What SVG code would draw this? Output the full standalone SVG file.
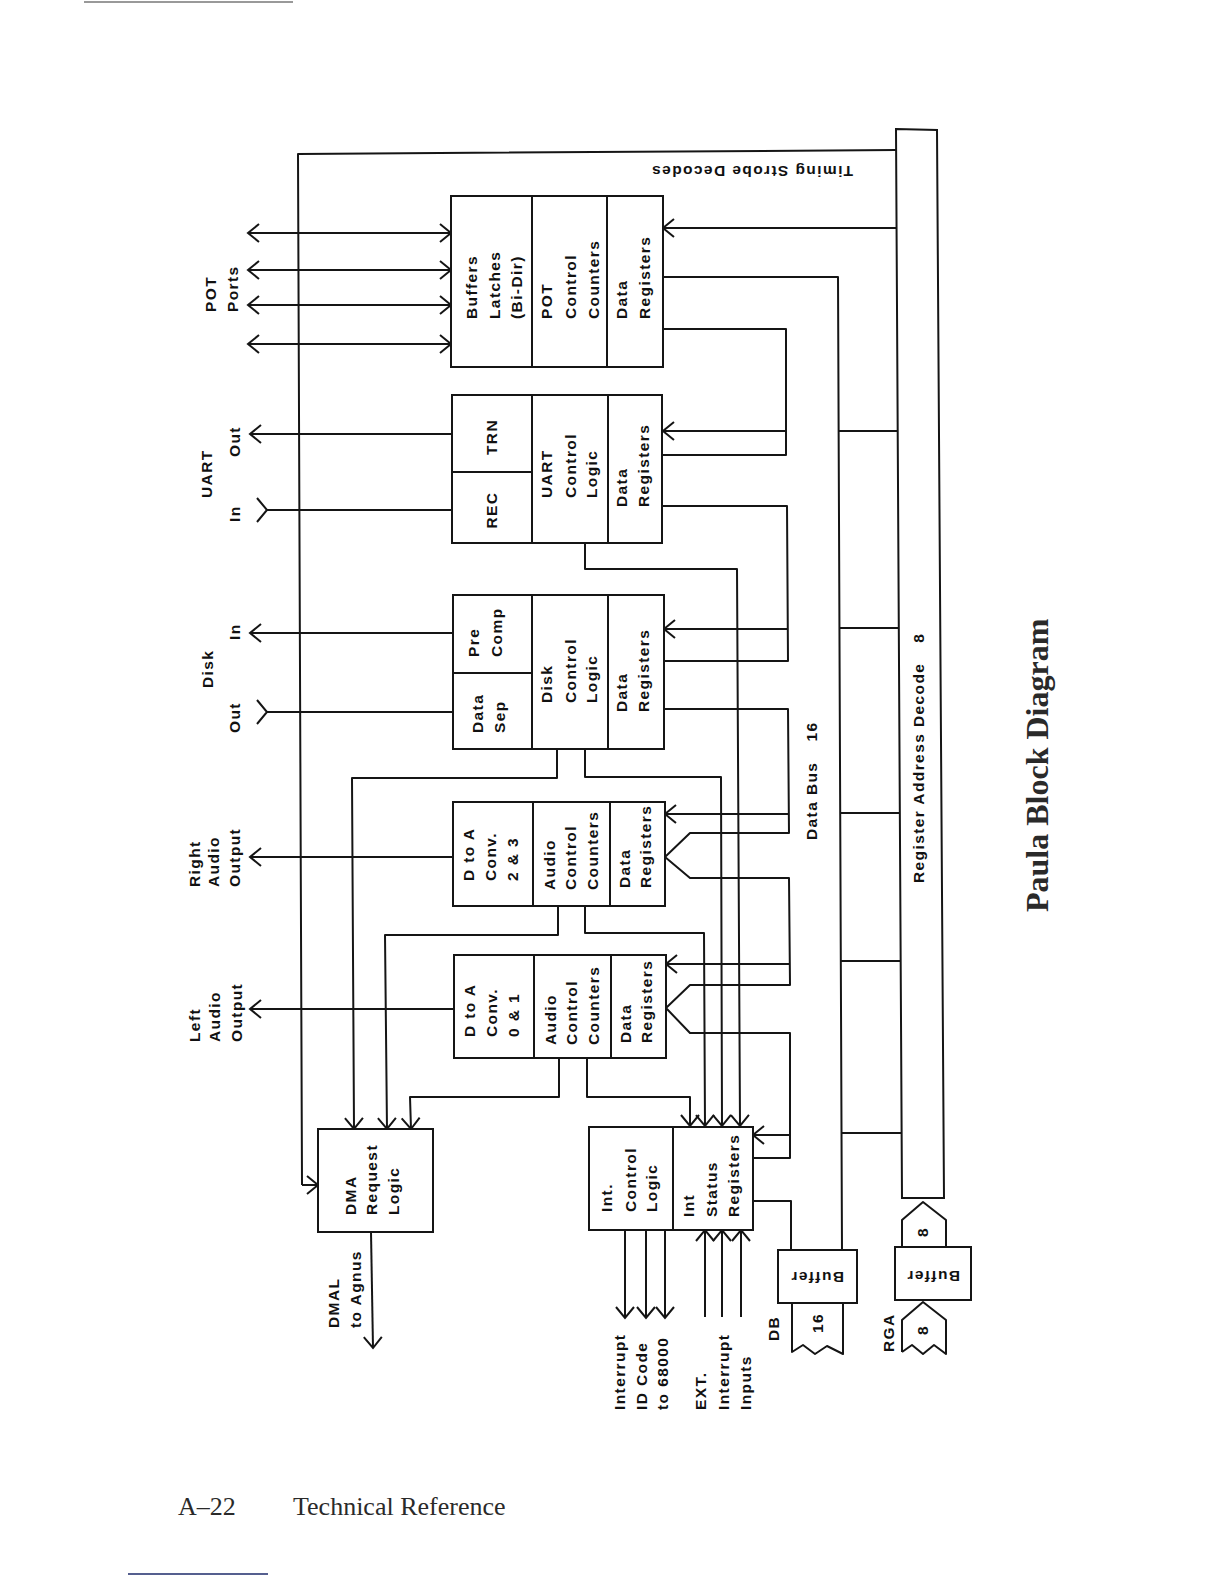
<svg xmlns="http://www.w3.org/2000/svg" width="1224" height="1584" viewBox="0 0 1224 1584">
<defs>
<style>
.t{font-family:"Liberation Sans",Arial,sans-serif;font-weight:bold;font-size:15.5px;letter-spacing:1.4px;fill:#111}
.m{text-anchor:middle}
.b{fill:#fff;stroke:#151515;stroke-width:2}
.l{fill:none;stroke:#151515;stroke-width:2;stroke-linejoin:round}
.a{marker-end:url(#ah)}
.bi{marker-start:url(#ah);marker-end:url(#ah)}
.tl{marker-start:url(#tail)}
.serif{font-family:"Liberation Serif","Times New Roman",serif;fill:#2a2a2a}
</style>
<marker id="ah" markerUnits="userSpaceOnUse" markerWidth="30" markerHeight="30" viewBox="-15 -15 30 30" refX="0" refY="0" orient="auto-start-reverse" overflow="visible">
<path d="M-11,-9 L0,0 L-11,9" fill="none" stroke="#151515" stroke-width="2"/>
</marker>
<marker id="tail" markerUnits="userSpaceOnUse" markerWidth="30" markerHeight="30" viewBox="-15 -15 30 30" refX="0" refY="0" orient="auto" overflow="visible">
<path d="M-10,-12 L0,0 L-10,12" fill="none" stroke="#151515" stroke-width="2"/>
</marker>
</defs>
<rect width="1224" height="1584" fill="#fff"/>
<line x1="84" y1="2" x2="293" y2="2" stroke="#999" stroke-width="2"/>

<g id="connectors">
<path class="l" d="M896,150 L298,154 L302,1185"/>
<path class="l a" d="M302,1185 H318"/>
<path class="l bi" d="M248,233 H451"/>
<path class="l bi" d="M248,270 H451"/>
<path class="l bi" d="M248,305 H451"/>
<path class="l bi" d="M248,344 H451"/>
<path class="l a" d="M452,434 H250"/>
<path class="l tl" d="M267,510 H452"/>
<path class="l a" d="M453,633 H250"/>
<path class="l tl" d="M267,712 H453"/>
<path class="l a" d="M453,857 H250"/>
<path class="l a" d="M454,1009 H250"/>
<path class="l a" d="M896,228 H663"/>
<path class="l a" d="M786,431 H663"/>
<path class="l a" d="M788,629 H664"/>
<path class="l a" d="M789,814 H665"/>
<path class="l a" d="M790,964 H666"/>
<path class="l a" d="M790,1135 H753"/>
<path class="l" d="M663,277 H838 L842,1250"/>
<path class="l" d="M838,431 H898"/>
<path class="l" d="M839,628 H899"/>
<path class="l" d="M840,813 H900"/>
<path class="l" d="M841,961 H901"/>
<path class="l" d="M842,1133 H902"/>
<path class="l" d="M663,329 H786 V455 H663"/>
<path class="l" d="M663,506 H787 L788,661 H664"/>
<path class="l" d="M664,709 H788 L789,833 H690 L665,857 L690,878 H789 L790,985 H690 L666,1008 L690,1033 H790 V1158 H753"/>
<path class="l" d="M753,1201 H791 V1250"/>
<path class="l a" d="M557,749 V778 H352 L354,1129"/>
<path class="l a" d="M558,906 V935 H385 L387,1129"/>
<path class="l a" d="M559,1058 V1097 H410 L411,1129"/>
<path class="l a" d="M371,1232 L373,1348"/>
<path class="l a" d="M585,543 V569 H737 L740,1126"/>
<path class="l a" d="M585,749 V777 H721 L722,1126"/>
<path class="l a" d="M585,906 V933 H704 L705,1126"/>
<path class="l a" d="M587,1058 V1097 H690 V1126"/>
<path class="l a" d="M625,1230 V1318"/>
<path class="l a" d="M646,1230 V1318"/>
<path class="l a" d="M665,1230 V1318"/>
<path class="l a" d="M705,1317 V1230"/>
<path class="l a" d="M722,1317 V1230"/>
<path class="l a" d="M741,1317 V1230"/>
</g>

<g id="register-bus">
<path class="b" d="M896,129 L937,130 L944,1198 L902,1198 Z"/>
<text class="t" transform="rotate(-90 924 883)" x="924" y="883">Register Address Decode<tspan dx="20">8</tspan></text>
</g>
<g id="data-bus-label">
<text class="t" transform="rotate(-90 817 840)" x="817" y="840">Data Bus<tspan dx="20">16</tspan></text>
</g>
<g id="timing-label">
<text class="t" transform="translate(853,166) rotate(180)">Timing Strobe Decodes</text>
</g>

<g id="pot">
<rect class="b" x="451" y="196" width="212" height="171"/>
<path class="l" d="M532,196 V367 M607,196 V367"/>
<text class="t" transform="rotate(-90 477 319)" x="477" y="319">Buffers</text>
<text class="t" transform="rotate(-90 500 319)" x="500" y="319">Latches</text>
<text class="t" transform="rotate(-90 522 319)" x="522" y="319">(Bi-Dir)</text>
<text class="t" transform="rotate(-90 552 319)" x="552" y="319">POT</text>
<text class="t" transform="rotate(-90 576 319)" x="576" y="319">Control</text>
<text class="t" transform="rotate(-90 599 319)" x="599" y="319">Counters</text>
<text class="t" transform="rotate(-90 627 319)" x="627" y="319">Data</text>
<text class="t" transform="rotate(-90 650 319)" x="650" y="319">Registers</text>
</g>

<g id="uart">
<rect class="b" x="452" y="395" width="210" height="148"/>
<path class="l" d="M532,395 V543 M608,395 V543 M452,472 H532"/>
<text class="t m" transform="rotate(-90 497 437)" x="497" y="437">TRN</text>
<text class="t m" transform="rotate(-90 497 510)" x="497" y="510">REC</text>
<text class="t" transform="rotate(-90 552 498)" x="552" y="498">UART</text>
<text class="t" transform="rotate(-90 576 498)" x="576" y="498">Control</text>
<text class="t" transform="rotate(-90 597 498)" x="597" y="498">Logic</text>
<text class="t" transform="rotate(-90 627 507)" x="627" y="507">Data</text>
<text class="t" transform="rotate(-90 649 507)" x="649" y="507">Registers</text>
</g>

<g id="disk">
<rect class="b" x="453" y="595" width="211" height="154"/>
<path class="l" d="M532,595 V749 M608,595 V749 M453,673 H532"/>
<text class="t" transform="rotate(-90 479 657)" x="479" y="657">Pre</text>
<text class="t" transform="rotate(-90 502 657)" x="502" y="657">Comp</text>
<text class="t" transform="rotate(-90 483 733)" x="483" y="733">Data</text>
<text class="t" transform="rotate(-90 505 733)" x="505" y="733">Sep</text>
<text class="t" transform="rotate(-90 552 703)" x="552" y="703">Disk</text>
<text class="t" transform="rotate(-90 576 703)" x="576" y="703">Control</text>
<text class="t" transform="rotate(-90 597 703)" x="597" y="703">Logic</text>
<text class="t" transform="rotate(-90 627 712)" x="627" y="712">Data</text>
<text class="t" transform="rotate(-90 649 712)" x="649" y="712">Registers</text>
</g>

<g id="audio23">
<rect class="b" x="453" y="802" width="212" height="104"/>
<path class="l" d="M533,802 V906 M610,802 V906"/>
<text class="t" transform="rotate(-90 474 881)" x="474" y="881">D to A</text>
<text class="t" transform="rotate(-90 496 881)" x="496" y="881">Conv.</text>
<text class="t" transform="rotate(-90 518 881)" x="518" y="881">2 &amp; 3</text>
<text class="t" transform="rotate(-90 555 890)" x="555" y="890">Audio</text>
<text class="t" transform="rotate(-90 576 890)" x="576" y="890">Control</text>
<text class="t" transform="rotate(-90 598 890)" x="598" y="890">Counters</text>
<text class="t" transform="rotate(-90 630 888)" x="630" y="888">Data</text>
<text class="t" transform="rotate(-90 651 888)" x="651" y="888">Registers</text>
</g>

<g id="audio01">
<rect class="b" x="454" y="955" width="212" height="103"/>
<path class="l" d="M534,955 V1058 M611,955 V1058"/>
<text class="t" transform="rotate(-90 475 1037)" x="475" y="1037">D to A</text>
<text class="t" transform="rotate(-90 497 1037)" x="497" y="1037">Conv.</text>
<text class="t" transform="rotate(-90 519 1037)" x="519" y="1037">0 &amp; 1</text>
<text class="t" transform="rotate(-90 556 1045)" x="556" y="1045">Audio</text>
<text class="t" transform="rotate(-90 577 1045)" x="577" y="1045">Control</text>
<text class="t" transform="rotate(-90 599 1045)" x="599" y="1045">Counters</text>
<text class="t" transform="rotate(-90 631 1043)" x="631" y="1043">Data</text>
<text class="t" transform="rotate(-90 652 1043)" x="652" y="1043">Registers</text>
</g>

<g id="dma">
<rect class="b" x="318" y="1129" width="115" height="103"/>
<text class="t" transform="rotate(-90 356 1215)" x="356" y="1215">DMA</text>
<text class="t" transform="rotate(-90 377 1215)" x="377" y="1215">Request</text>
<text class="t" transform="rotate(-90 399 1215)" x="399" y="1215">Logic</text>
</g>

<g id="interrupt">
<rect class="b" x="589" y="1127" width="164" height="103"/>
<path class="l" d="M673,1127 V1230"/>
<text class="t" transform="rotate(-90 612 1212)" x="612" y="1212">Int.</text>
<text class="t" transform="rotate(-90 636 1212)" x="636" y="1212">Control</text>
<text class="t" transform="rotate(-90 657 1212)" x="657" y="1212">Logic</text>
<text class="t" transform="rotate(-90 694 1217)" x="694" y="1217">Int</text>
<text class="t" transform="rotate(-90 717 1217)" x="717" y="1217">Status</text>
<text class="t" transform="rotate(-90 739 1217)" x="739" y="1217">Registers</text>
</g>

<g id="db-buffer">
<rect class="b" x="778" y="1250" width="79" height="53"/>
<text class="t m" transform="translate(817,1272) rotate(180)">Buffer</text>
<path class="l" d="M792,1303 V1352 L803,1345 L815,1354 L827,1346 L843,1354 V1303"/>
<text class="t m" transform="rotate(-90 823 1323)" x="823" y="1323">16</text>
<text class="t" transform="rotate(-90 779 1341)" x="779" y="1341">DB</text>
</g>

<g id="rga-buffer">
<path class="l" d="M902,1247 V1220 L923,1202 L946,1220 V1247"/>
<text class="t m" transform="rotate(-90 928 1232)" x="928" y="1232">8</text>
<rect class="b" x="895" y="1247" width="76" height="53"/>
<text class="t m" transform="translate(933,1271) rotate(180)">Buffer</text>
<path class="l" d="M902,1352 V1320 L923,1302 L946,1320 V1354 L934,1345 L923,1354 L912,1345 L902,1352"/>
<text class="t m" transform="rotate(-90 928 1330)" x="928" y="1330">8</text>
<text class="t" transform="rotate(-90 894 1352)" x="894" y="1352">RGA</text>
</g>

<g id="labels">
<text class="t" transform="rotate(-90 216 312)" x="216" y="312">POT</text>
<text class="t" transform="rotate(-90 238 312)" x="238" y="312">Ports</text>
<text class="t" transform="rotate(-90 212 498)" x="212" y="498">UART</text>
<text class="t" transform="rotate(-90 240 522)" x="240" y="522">In</text>
<text class="t" transform="rotate(-90 240 457)" x="240" y="457">Out</text>
<text class="t" transform="rotate(-90 213 688)" x="213" y="688">Disk</text>
<text class="t" transform="rotate(-90 240 640)" x="240" y="640">In</text>
<text class="t" transform="rotate(-90 240 733)" x="240" y="733">Out</text>
<text class="t" transform="rotate(-90 200 887)" x="200" y="887">Right</text>
<text class="t" transform="rotate(-90 219 887)" x="219" y="887">Audio</text>
<text class="t" transform="rotate(-90 240 887)" x="240" y="887">Output</text>
<text class="t" transform="rotate(-90 200 1042)" x="200" y="1042">Left</text>
<text class="t" transform="rotate(-90 220 1042)" x="220" y="1042">Audio</text>
<text class="t" transform="rotate(-90 242 1042)" x="242" y="1042">Output</text>
<text class="t" transform="rotate(-90 339 1328)" x="339" y="1328">DMAL</text>
<text class="t" transform="rotate(-90 361 1328)" x="361" y="1328">to Agnus</text>
<text class="t" transform="rotate(-90 625 1410)" x="625" y="1410">Interrupt</text>
<text class="t" transform="rotate(-90 647 1410)" x="647" y="1410">ID Code</text>
<text class="t" transform="rotate(-90 668 1410)" x="668" y="1410">to 68000</text>
<text class="t" transform="rotate(-90 706 1410)" x="706" y="1410">EXT.</text>
<text class="t" transform="rotate(-90 729 1410)" x="729" y="1410">Interrupt</text>
<text class="t" transform="rotate(-90 751 1410)" x="751" y="1410">Inputs</text>
</g>

<g id="title">
<text class="serif" font-weight="bold" font-size="32" transform="rotate(-90 1048 912)" x="1048" y="912">Paula Block Diagram</text>
</g>
<g id="footer">
<text class="serif" font-size="26" x="178" y="1515">A–22</text>
<text class="serif" font-size="26" x="293" y="1515">Technical Reference</text>
<line x1="128" y1="1574" x2="268" y2="1574" stroke="#1c2a6a" stroke-width="1.5"/>
</g>
</svg>
